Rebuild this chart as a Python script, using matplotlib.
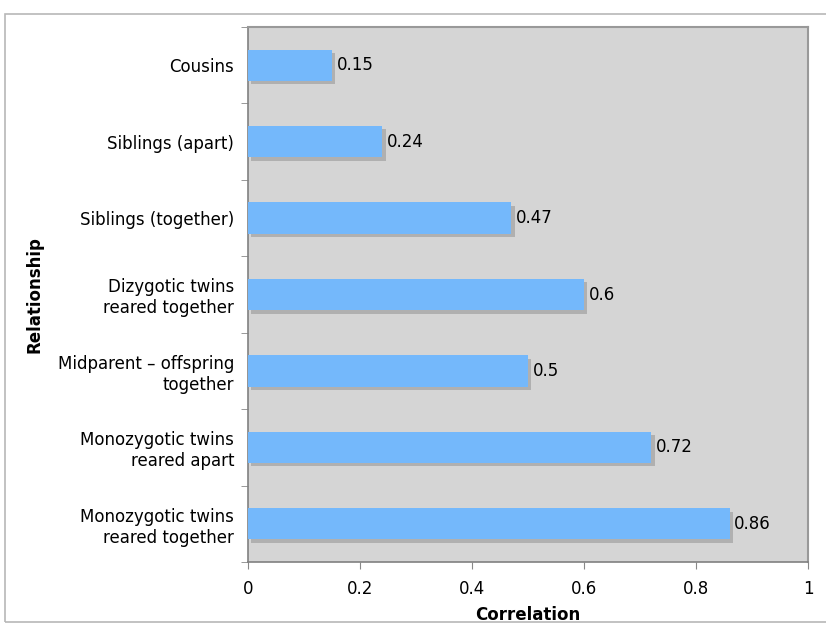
import matplotlib.pyplot as plt
import matplotlib.patheffects as pe
from matplotlib.patches import Rectangle

relationships = [
    "Monozygotic twins\nreared together",
    "Monozygotic twins\nreared apart",
    "Midparent \u2013 offspring\ntogether",
    "Dizygotic twins\nreared together",
    "Siblings (together)",
    "Siblings (apart)",
    "Cousins",
]
correlations = [0.86, 0.72, 0.5, 0.6, 0.47, 0.24, 0.15]
value_labels = ["0.86", "0.72", "0.5", "0.6", "0.47", "0.24", "0.15"]
xticks = [0, 0.2, 0.4, 0.6, 0.8, 1]

plt.rcParams['font.family'] = ['DejaVu Sans']
fs = 12

fig = plt.figure(figsize=(8.26, 6.35), dpi=100)
# outer chart frame
fig.patches.append(Rectangle((5 / 826, 1 - 622 / 635), 830 / 826, 608 / 635,
                             transform=fig.transFigure, fill=False,
                             edgecolor='#b8b8b8', linewidth=1.2))

ax = fig.add_axes([248 / 826, 1 - 562 / 635, 560 / 826, 535 / 635])
ax.set_facecolor('#d5d5d5')

ypos = range(len(relationships))
bars = ax.barh(ypos, correlations, height=0.41, color='#74b8fb', zorder=3)
for b in bars:
    b.set_path_effects([pe.SimplePatchShadow(offset=(2.5, -2.5), shadow_rgbFace='#b0b0b0', alpha=1.0),
                        pe.Normal()])

for i, (v, lab) in enumerate(zip(correlations, value_labels)):
    ax.text(v + 0.008, i, lab, va='center', ha='left', fontsize=fs, zorder=4)

ax.set_xlim(0, 1)
ax.set_ylim(-0.5, len(relationships) - 0.5)
ax.set_xticks(xticks)
ax.set_xticklabels(["0", "0.2", "0.4", "0.6", "0.8", "1"], fontsize=fs)
ax.set_yticks(ypos)
ax.set_yticklabels(relationships, fontsize=fs, ha='right', multialignment='right',
                   linespacing=1.2)
ax.tick_params(axis='y', length=0, pad=10)
ax.set_yticks([i + 0.5 for i in range(-1, len(relationships))], minor=True)
ax.tick_params(axis='y', which='minor', length=5, color='#888888')
ax.tick_params(axis='x', length=5, color='#888888', pad=8)

for s in ['top', 'right']:
    ax.spines[s].set_color('#999999')
    ax.spines[s].set_linewidth(1.5)
for s in ['left', 'bottom']:
    ax.spines[s].set_color('#808080')
    ax.spines[s].set_linewidth(1.2)

ax.set_xlabel('Correlation', fontsize=fs, fontweight='bold', labelpad=6)
ax.set_ylabel('Relationship', fontsize=fs, fontweight='bold', labelpad=10)

fig.savefig('out.png', dpi=100)
